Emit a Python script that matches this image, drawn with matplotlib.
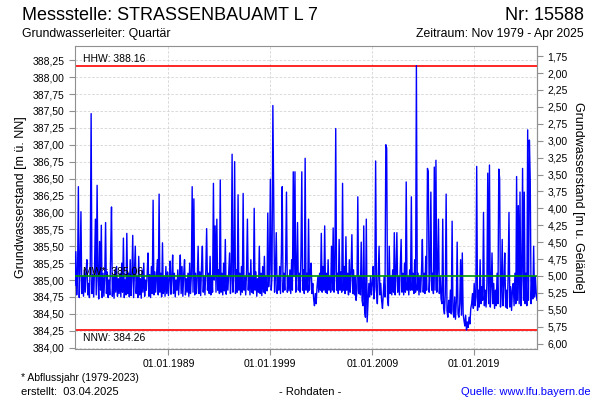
import numpy as np
import pandas as pd
import matplotlib
matplotlib.use('Agg')
import matplotlib.pyplot as plt
import matplotlib.dates as mdates
from matplotlib.ticker import FuncFormatter

plt.rcParams['font.family'] = ['Liberation Sans', 'DejaVu Sans']

# Monatswerte Grundwasserstand [m ü. NN], ab Nov 1979
start = '1979-11-01'
levels_1 = [
    384.92, 385.42, 384.78, 385.10, 386.38, 384.74, 385.20, 386.01, 384.80, 385.05, 384.76, 385.15,
    384.82, 385.12, 385.30, 384.78, 384.95, 384.74, 385.25, 387.46, 384.80, 385.08, 384.75, 385.18,
    385.90, 384.78, 386.40, 385.02, 384.72, 385.57, 384.85, 385.81, 384.74, 385.10, 384.76, 385.05,
    385.85, 384.80, 385.12, 384.74, 385.00, 384.78, 385.35, 386.08, 384.76, 385.05, 384.73, 385.15,
    384.82, 385.20, 384.76, 385.02, 384.80, 385.10, 384.75, 385.25, 384.82, 385.62, 384.74, 385.00,
    384.78, 385.69, 384.80, 385.10, 384.75, 385.30, 384.77, 385.05, 385.66, 384.74, 385.12, 385.50,
    384.80, 385.05, 384.74, 385.35, 384.78, 385.02, 384.73, 385.15, 384.82, 385.25, 384.76, 385.00,
    384.85, 385.10, 385.40, 384.76, 385.08, 384.74, 385.20, 384.80, 386.18, 384.78, 385.12, 384.82,
    385.05, 385.30, 384.78, 386.27, 384.82, 385.10, 384.75, 385.55, 384.80, 385.05, 384.76, 385.20,
    384.80, 385.12, 384.77, 385.02, 385.28, 384.79, 385.05, 385.37, 384.80, 385.10, 384.75, 385.00,
]
levels_2 = [
    384.85, 385.15, 384.78, 385.05, 385.37, 384.80, 385.20, 384.76, 385.08, 385.30, 384.78, 385.02,
    384.82, 385.10, 384.76, 385.25, 384.80, 385.05, 386.38, 384.82, 386.20, 384.78, 385.10, 384.80,
    385.05, 385.50, 384.80, 385.12, 384.77, 385.20, 385.50, 384.82, 385.05, 384.78, 385.15, 385.76,
    384.85, 385.10, 384.80, 385.35, 384.78, 385.05, 384.82, 386.43, 385.00, 385.80, 384.82, 385.90,
    384.85, 385.15, 384.80, 386.48, 384.82, 385.10, 384.78, 385.25, 384.84, 385.60, 384.79, 385.05,
    384.85, 385.12, 385.40, 384.80, 385.05, 386.86, 384.82, 385.10, 386.75, 384.80, 385.15, 384.82,
    386.26, 384.85, 385.10, 384.78, 385.20, 384.82, 386.28, 384.85, 385.05, 384.78, 385.15, 385.90,
    384.85, 385.10, 384.78, 385.30, 384.82, 385.05, 384.80, 386.06, 384.85, 385.12, 384.76, 385.02,
    384.82, 385.50, 384.80, 385.10, 384.77, 385.20, 384.82, 385.35, 384.80, 385.05, 384.84, 385.99,
    384.90, 385.15, 386.49, 384.85, 385.05, 387.58, 386.30, 384.82, 385.10, 385.70, 384.80, 385.05,
]
levels_3 = [
    384.85, 385.20, 384.80, 385.40, 386.38, 384.82, 385.10, 384.85, 385.25, 386.30, 384.82, 385.05,
    384.84, 385.15, 384.80, 385.30, 384.85, 386.60, 385.05, 386.60, 384.82, 385.10, 385.85, 384.85,
    385.10, 384.82, 385.35, 386.60, 384.85, 385.15, 384.80, 386.80, 384.85, 385.10, 384.82, 385.90,
    384.85, 385.10, 385.25, 384.80, 384.95, 384.72, 384.62, 384.80, 384.65, 384.90, 385.05, 384.82,
    385.10, 384.85, 385.69, 384.82, 385.20, 384.85, 385.80, 384.82, 385.10, 384.80, 385.30, 384.85,
    385.05, 384.82, 385.50, 384.85, 385.77, 384.82, 385.15, 387.24, 384.85, 385.10, 384.80, 385.60,
    384.85, 385.12, 384.82, 386.43, 384.85, 385.20, 384.80, 385.64, 384.85, 385.10, 384.78, 385.30,
    384.82, 385.10, 385.67, 384.80, 385.15, 384.78, 385.05, 384.70, 384.85, 386.23, 384.80, 385.05,
    384.78, 385.56, 384.70, 384.62, 385.80, 384.55, 384.45, 385.90, 384.38, 384.65, 384.95, 384.75,
    385.05, 384.78, 384.95, 385.20, 384.72, 384.90, 386.76, 384.85, 384.65, 385.05, 385.50, 384.78,
]
levels_4 = [
    384.95, 384.70, 384.58, 384.80, 385.05, 384.75, 387.00, 386.95, 384.72, 384.62, 385.50, 384.80,
    385.05, 384.78, 385.15, 384.82, 385.70, 384.78, 385.10, 385.70, 384.82, 385.05, 384.78, 385.20,
    385.60, 384.82, 385.10, 384.78, 385.25, 384.82, 386.45, 384.85, 385.05, 384.78, 385.15, 384.85,
    386.23, 384.85, 385.10, 384.80, 385.30, 384.82, 388.17, 384.85, 385.10, 384.78, 385.05, 384.82,
    385.15, 385.60, 384.82, 385.10, 384.80, 385.35, 384.85, 386.65, 386.60, 384.82, 385.10, 386.30,
    384.85, 385.10, 384.80, 386.67, 384.85, 386.77, 384.82, 385.15, 385.90, 384.80, 385.05, 384.72,
    384.65, 385.90, 384.58, 384.50, 384.80, 386.27, 384.55, 384.45, 384.70, 384.52, 384.85, 384.50,
    385.87, 384.55, 384.45, 384.75, 384.42, 384.68, 385.56, 384.50, 384.45, 384.65, 385.30, 384.48,
    385.40, 384.50, 384.40, 384.32, 384.48, 384.26, 384.38, 384.30, 384.45, 384.35, 384.58, 384.65,
    384.80, 384.58, 384.95, 384.62, 384.75, 386.68, 384.55, 384.85, 384.60, 385.30, 384.65, 384.90,
]
levels_5 = [
    384.70, 386.00, 384.62, 384.85, 384.60, 384.95, 386.58, 384.65, 386.70, 384.60, 384.90, 385.40,
    384.65, 384.95, 384.58, 384.85, 384.62, 385.10, 384.65, 386.64, 386.50, 384.60, 384.90, 385.60,
    384.62, 384.95, 385.40, 384.60, 384.85, 384.58, 385.05, 386.00, 384.60, 384.90, 384.55, 384.85,
    384.95, 384.62, 385.10, 384.65, 386.53, 384.70, 386.10, 384.65, 386.30, 384.62, 385.05, 386.65,
    384.70, 386.30, 384.65, 385.10, 384.62, 387.22, 384.70, 387.07, 386.50, 384.65, 385.05, 384.72,
    385.50, 384.75, 385.05, 384.80, 384.70,
]

levels = levels_1 + levels_2 + levels_3 + levels_4 + levels_5
dates = pd.date_range(start, periods=len(levels), freq='MS')

HHW = 388.16
NNW = 384.26
MW = 385.06
gelaende = 390.06  # Geländehöhe, 5,00 m u. Gelände = MW
year_ticks = pd.to_datetime(['1989-01-01', '1999-01-01', '2009-01-01', '2019-01-01'])
left_ticks = np.arange(384.0, 388.26, 0.25)
right_ticks = np.arange(1.75, 6.01, 0.25)

fig = plt.figure(figsize=(6, 4), dpi=100)
ax = fig.add_axes([0.125, 0.1275, 0.77, 0.7575])

grey = '#909090'
ax.grid(True, color='#d4d4d4', linestyle=(0, (3, 2)), linewidth=0.6)
ax.set_axisbelow(True)

ax.axhline(HHW, color='red', lw=1.2, zorder=2)
ax.axhline(NNW, color='red', lw=1.2, zorder=2)
ax.axhline(MW, color='#009900', lw=1.2, zorder=4)
ax.plot(dates, levels, color='blue', lw=1.0, zorder=3)

ax.text(0.017, 388.27, 'HHW: 388.16', transform=ax.get_yaxis_transform(),
        fontsize=7.5, va='center', zorder=1)
ax.text(0.017, 385.12, 'MW*: 385.06', transform=ax.get_yaxis_transform(),
        fontsize=7.5, va='center', zorder=5)
ax.text(0.017, 384.15, 'NNW: 384.26', transform=ax.get_yaxis_transform(),
        fontsize=7.5, va='center', zorder=1)

ax.set_xlim(pd.Timestamp('1979-11-01'), pd.Timestamp('2025-03-01'))
ax.set_ylim(383.98, 388.46)
ax.set_yticks(left_ticks)
komma = FuncFormatter(lambda v, p: f'{v:.2f}'.replace('.', ','))
ax.yaxis.set_major_formatter(komma)
ax.set_xticks(year_ticks)
ax.xaxis.set_major_formatter(mdates.DateFormatter('%d.%m.%Y'))
ax.tick_params(colors=grey, labelcolor='black', labelsize=7.5, length=4, width=0.8)
for s in ax.spines.values():
    s.set_color(grey)
ax.set_ylabel('Grundwasserstand [m ü. NN]', fontsize=9, labelpad=4)

sec = ax.secondary_yaxis('right', functions=(lambda y: gelaende - y, lambda d: gelaende - d))
sec.set_yticks(right_ticks)
sec.yaxis.set_major_formatter(komma)
sec.tick_params(colors=grey, labelcolor='black', labelsize=7.5, length=4, width=0.8)
sec.spines['right'].set_color(grey)
sec.set_ylabel('Grundwasserstand [m u. Gelände]', fontsize=9, rotation=270, labelpad=12)

fig.text(22 / 600, 1 - 15 / 400, 'Messstelle: STRASSENBAUAMT L 7', fontsize=13, va='center')
fig.text(584 / 600, 1 - 15 / 400, 'Nr: 15588', fontsize=13, va='center', ha='right')
fig.text(22 / 600, 1 - 34 / 400, 'Grundwasserleiter: Quartär', fontsize=8.8, va='center')
fig.text(584 / 600, 1 - 34 / 400, 'Zeitraum: Nov 1979 - Apr 2025', fontsize=8.8, va='center', ha='right')
fig.text(21 / 600, 1 - 378 / 400, '* Abflussjahr (1979-2023)', fontsize=7.5, va='center')
fig.text(21 / 600, 1 - 392 / 400, 'erstellt:  03.04.2025', fontsize=8, va='center')
fig.text(310 / 600, 1 - 392 / 400, '- Rohdaten -', fontsize=8, va='center', ha='center')
fig.text(591 / 600, 1 - 392 / 400, 'Quelle: www.lfu.bayern.de', fontsize=8, va='center',
         ha='right', color='blue')

fig.savefig('out.png', dpi=100)
